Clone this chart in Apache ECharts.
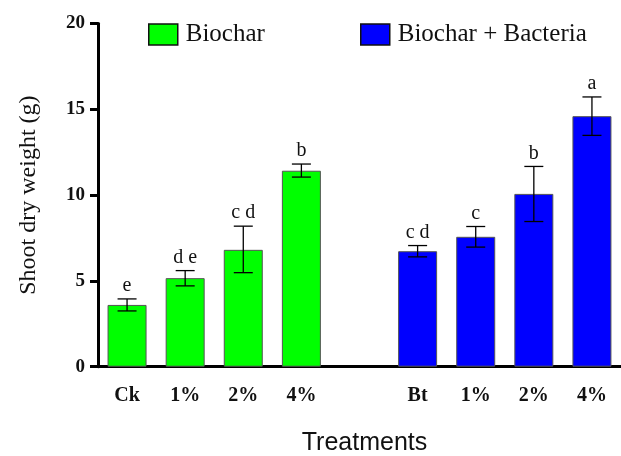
<!DOCTYPE html>
<html>
<head>
<meta charset="utf-8">
<script src="https://cdn.jsdelivr.net/npm/echarts@6/dist/echarts.min.js"></script>
<style>
html,body{margin:0;padding:0;background:#fff;}
#chart{width:621px;height:456px;}
</style>
</head>
<body>
<div id="chart"></div>
<script>
// ---- data ----
var categories = ['Ck', '1%', '2%', '4%', '', 'Bt', '1%', '2%', '4%'];
var biocharMeans = [3.6, 5.16, 6.81, 11.42, null, null, null, null, null];
var bacteriaMeans = [null, null, null, null, null, 6.73, 7.57, 10.07, 14.6];
var errLow = [3.25, 4.71, 5.48, 11.05, null, 6.4, 6.97, 8.46, 13.48];
var errHigh = [3.95, 5.6, 8.19, 11.81, null, 7.06, 8.17, 11.67, 15.72];
var letters = ['e', 'd e', 'c d', 'b', '', 'c d', 'c', 'b', 'a'];
var yTicks = [0, 5, 10, 15, 20];

var serif = '"Liberation Serif", "Times New Roman", serif';
var sans = '"Liberation Sans", Arial, sans-serif';

var errData = [];
for (var i = 0; i < categories.length; i++) {
  if (errLow[i] != null) errData.push([i, errLow[i], errHigh[i], letters[i]]);
}

var chart = echarts.init(document.getElementById('chart'), null, {renderer: 'canvas'});
var option = {
  animation: false,
  backgroundColor: '#ffffff',
  grid: {left: 98, right: 0, top: 23.5, height: 343.2, containLabel: false, outerBoundsMode: 'none'},
  legend: [
    {
      data: ['Biochar'], left: 148, top: 22, padding: 0, itemWidth: 29, itemHeight: 21, itemGap: 8, icon: 'rect',
      textStyle: {fontFamily: serif, fontSize: 25, color: '#111', padding: [0, 0, 0, 3]},
      itemStyle: {borderColor: '#111', borderWidth: 1.5}
    },
    {
      data: ['Biochar + Bacteria'], left: 360, top: 22, padding: 0, itemWidth: 29, itemHeight: 21, itemGap: 8, icon: 'rect',
      textStyle: {fontFamily: serif, fontSize: 25, color: '#111', padding: [0, 0, 0, 3]},
      itemStyle: {borderColor: '#111', borderWidth: 1.5}
    }
  ],
  xAxis: {
    type: 'category',
    data: categories,
    boundaryGap: true,
    name: 'Treatments',
    nameLocation: 'middle',
    nameGap: 64,
    nameTextStyle: {fontFamily: sans, fontSize: 25, color: '#111', padding: [0, 0, 0, 10]},
    axisLine: {lineStyle: {color: '#000', width: 3}},
    axisTick: {alignWithLabel: true, length: 8, lineStyle: {color: '#000', width: 3}},
    axisLabel: {fontFamily: serif, fontWeight: 'bold', fontSize: 20, color: '#111', margin: 19, interval: 0},
    splitLine: {show: false}
  },
  yAxis: {
    type: 'value',
    min: yTicks[0],
    max: yTicks[yTicks.length - 1],
    interval: 5,
    name: 'Shoot dry weight (g)',
    nameLocation: 'middle',
    nameGap: 57,
    nameTextStyle: {fontFamily: serif, fontSize: 24, color: '#111'},
    axisLine: {show: true, lineStyle: {color: '#000', width: 3}},
    axisTick: {show: true, length: 8, lineStyle: {color: '#000', width: 3}},
    axisLabel: {fontFamily: serif, fontWeight: 'bold', fontSize: 19, color: '#111', margin: 13},
    splitLine: {show: false}
  },
  series: [
    {
      name: 'Biochar', type: 'bar', data: biocharMeans, barWidth: 39, barGap: '-100%',
      itemStyle: {color: '#00ff00', borderColor: '#555', borderWidth: 1}
    },
    {
      name: 'Biochar + Bacteria', type: 'bar', data: bacteriaMeans, barWidth: 39, barGap: '-100%',
      itemStyle: {color: '#0000ff', borderColor: '#555', borderWidth: 1}
    },
    {
      name: 'err', type: 'custom', data: errData, z: 10,
      encode: {x: 0, y: [1, 2]},
      renderItem: function (params, api) {
        var x = api.value(0);
        var lo = api.coord([x, api.value(1)]);
        var hi = api.coord([x, api.value(2)]);
        var half = 9.5;
        var st = {stroke: '#000', lineWidth: 1.3, fill: null};
        return {
          type: 'group',
          children: [
            {type: 'line', shape: {x1: lo[0], y1: lo[1], x2: hi[0], y2: hi[1]}, style: st},
            {type: 'line', shape: {x1: lo[0] - half, y1: lo[1], x2: lo[0] + half, y2: lo[1]}, style: st},
            {type: 'line', shape: {x1: hi[0] - half, y1: hi[1], x2: hi[0] + half, y2: hi[1]}, style: st},
            {type: 'text', x: hi[0], y: hi[1] - 3,
             style: {text: api.value(3), fontFamily: serif, fontSize: 20, fill: '#111',
                     textAlign: 'center', textVerticalAlign: 'bottom'}}
          ]
        };
      }
    }
  ]
};
chart.setOption(option);
</script>
</body>
</html>
